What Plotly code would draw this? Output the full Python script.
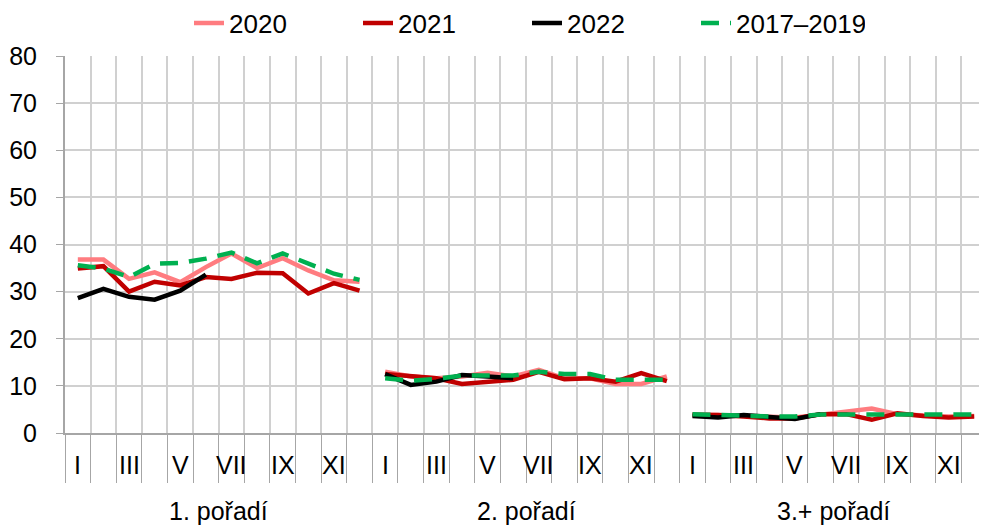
import plotly.graph_objects as go

months = ["I", "II", "III", "IV", "V", "VI", "VII", "VIII", "IX", "X", "XI", "XII"]
groups = ["1. pořadí", "2. pořadí", "3.+ pořadí"]
month_labels_shown = ["I", "III", "V", "VII", "IX", "XI"]

# values per group (1. pořadí, 2. pořadí, 3.+ pořadí), 12 months each
s2020 = [
    [36.8, 36.8, 32.7, 34.1, 32.0, 35.2, 38.1, 35.0, 37.1, 34.5, 32.4, 32.1],
    [13.0, 12.0, 11.6, 12.0, 12.8, 12.0, 13.4, 11.6, 11.6, 10.4, 10.4, 12.0],
    [4.0, 3.8, 3.6, 3.4, 3.3, 3.9, 4.5, 5.2, 4.0, 3.7, 3.5, 3.6],
]
s2021 = [
    [34.9, 35.4, 30.0, 32.1, 31.3, 33.1, 32.7, 34.0, 33.9, 29.6, 31.8, 30.2],
    [12.5, 12.0, 11.6, 10.4, 10.9, 11.3, 13.0, 11.4, 11.6, 10.9, 12.7, 11.0],
    [3.8, 3.8, 3.5, 3.1, 3.1, 4.0, 4.0, 2.8, 4.2, 3.6, 3.3, 3.5],
]
s2022 = [
    [28.6, 30.6, 28.9, 28.3, 30.2, 33.6, None, None, None, None, None, None],
    [12.5, 10.2, 10.9, 12.3, 12.0, 11.6, None, None, None, None, None, None],
    [3.6, 3.3, 3.8, 3.3, 3.0, 4.0, None, None, None, None, None, None],
]
s1719 = [
    [35.6, 34.9, 33.1, 35.9, 36.1, 37.0, 38.3, 36.0, 38.1, 35.9, 33.8, 32.5],
    [11.6, 11.1, 11.5, 12.2, 12.2, 12.2, 13.0, 12.5, 12.5, 11.3, 11.3, 11.3],
    [4.0, 3.8, 3.7, 3.5, 3.5, 3.9, 3.9, 3.9, 3.9, 3.7, 3.8, 3.9],
]

series = [
    ("2020", s2020, "#FF7C80", "solid"),
    ("2021", s2021, "#C00000", "solid"),
    ("2022", s2022, "#000000", "solid"),
    ("2017–2019", s1719, "#00B050", "18px,11px"),
]

FONT = "Liberation Sans, Arial, sans-serif"
FS = 25
n_m = len(months)
n_g = len(groups)

# the page body adds an 8px offset; the figure is sized to end at the window edge
W, H = 979, 518

fig = go.Figure()
for name, vals, color, dash in series:
    for g in range(n_g):
        xs = [g * n_m + m for m in range(n_m)]
        fig.add_trace(go.Scatter(
            x=xs, y=vals[g], mode="lines", name=name,
            legendgroup=name, showlegend=(g == 0),
            line=dict(color=color, width=4.5, dash=dash),
            connectgaps=False,
        ))

total = n_g * n_m
boundaries = [i - 0.5 for i in range(total + 1)]
group_bounds = [g * n_m - 0.5 for g in range(n_g + 1)]

annotations = []
for g in range(n_g):
    for m, lab in enumerate(months):
        if lab in month_labels_shown:
            annotations.append(dict(
                x=g * n_m + m, y=0, xref="x", yref="paper",
                text=lab, showarrow=False, yanchor="middle", yshift=-32,
                font=dict(family=FONT, size=FS, color="#000000")))
    annotations.append(dict(
        x=g * n_m + (n_m - 1) / 2, y=0, xref="x", yref="paper",
        text=groups[g], showarrow=False, yanchor="bottom", yshift=-94,
        font=dict(family=FONT, size=25, color="#000000")))

fig.update_layout(
    width=W, height=H,
    margin=dict(l=57, r=0, t=48, b=93, autoexpand=False),
    paper_bgcolor="white", plot_bgcolor="white",
    font=dict(family=FONT, size=FS, color="#000000"),
    showlegend=True,
    legend=dict(orientation="h", xref="container", yref="container",
                x=181 / W, xanchor="left", y=1 - 15 / H, yanchor="middle",
                font=dict(family=FONT, size=26), entrywidth=124, entrywidthmode="pixels",
                traceorder="normal", bgcolor="rgba(0,0,0,0)"),
    annotations=annotations,
    xaxis=dict(
        range=[-0.5, total - 0.5], tickmode="array", tickvals=group_bounds,
        ticktext=[""] * len(group_bounds), ticks="outside", ticklen=93,
        tickcolor="#A6A6A6", tickwidth=1,
        showgrid=True, gridcolor="#D0D0D0", gridwidth=1.5,
        showline=True, linecolor="#A6A6A6", linewidth=2,
        zeroline=False,
        minor=dict(tickmode="array", tickvals=boundaries, ticks="outside", ticklen=48,
                   tickcolor="#A6A6A6", tickwidth=1, showgrid=True,
                   gridcolor="#D0D0D0", gridwidth=1.5),
    ),
    yaxis=dict(
        range=[0, 80], dtick=10, tick0=0, showgrid=True, gridcolor="#D0D0D0", gridwidth=1.5,
        showline=True, linecolor="#A6A6A6", linewidth=2, zeroline=False,
        ticks="outside", ticklen=7, tickcolor="#A6A6A6", ticklabelstandoff=14,
        tickfont=dict(family=FONT, size=FS),
    ),
)

fig.write_html("out.html")
